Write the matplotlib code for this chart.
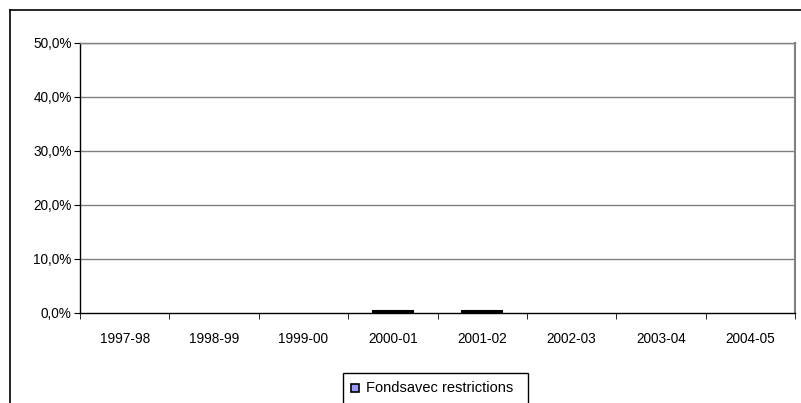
import matplotlib
matplotlib.use("Agg")
import matplotlib.pyplot as plt
from matplotlib.patches import Rectangle
from matplotlib.lines import Line2D
import numpy as np

categories = ["1997-98", "1998-99", "1999-00", "2000-01", "2001-02", "2002-03", "2003-04", "2004-05"]
values = [0.0, 0.0, 0.0, 0.4, 0.4, 0.0, 0.0, 0.0]
series_name = "Fondsavec restrictions"
yticks = [0, 10, 20, 30, 40, 50]
ytick_labels = ["0,0%", "10,0%", "20,0%", "30,0%", "40,0%", "50,0%"]

W, H = 801, 403
fig = plt.figure(figsize=(W / 100, H / 100), dpi=100)
plt.rcParams['font.family'] = ['Liberation Sans', 'DejaVu Sans']
FS = 9.8

ax = fig.add_axes([80 / W, 1 - 313 / H, (795 - 80) / W, (313 - 43) / H])
x = np.arange(len(categories))
edges = ["black" if v > 0 else "none" for v in values]
ax.bar(x, values, width=0.45, color="#9999FF", edgecolor=edges, linewidth=1.5, zorder=3)
ax.set_xlim(-0.5, len(categories) - 0.5)
ax.set_ylim(0, 50)
ax.set_yticks(yticks)
ax.set_yticklabels(ytick_labels, fontsize=FS)
ax.set_xticks(x)
ax.set_xticklabels(categories, fontsize=FS)
ax.tick_params(axis='x', length=0, pad=14)
ax.set_xticks(np.arange(-0.5, len(categories)), minor=True)
ax.tick_params(axis='x', which='minor', length=4, direction='out', color='black')
ax.tick_params(axis='y', length=4, direction='out', color='black', pad=2)
for yv in yticks[1:]:
    ax.axhline(yv, color="#808080", linewidth=1, zorder=1)
ax.spines['left'].set_color('black')
ax.spines['bottom'].set_color('black')
ax.spines['top'].set_color('#808080')
ax.spines['right'].set_color('#808080')
for s in ax.spines.values():
    s.set_linewidth(1)
ax.spines['right'].set_linewidth(1.5)

# outer chart border (top and left visible)
fig.add_artist(Line2D([10 / W, 1.0], [1 - 10 / H, 1 - 10 / H], color='black', linewidth=1.2, transform=fig.transFigure))
fig.add_artist(Line2D([10 / W, 10 / W], [0.0, 1 - 10 / H], color='black', linewidth=1.2, transform=fig.transFigure))

# legend box
fig.add_artist(Rectangle((343 / W, -0.05), (528 - 343) / W, 0.05 + (403 - 373) / H,
                         transform=fig.transFigure, facecolor='white', edgecolor='black', linewidth=1))
fig.add_artist(Rectangle((351 / W, 1 - 392 / H), 8 / W, 8 / H, transform=fig.transFigure,
                         facecolor='#9999FF', edgecolor='black', linewidth=1.2))
fig.text(366 / W, 1 - 388 / H, series_name, fontsize=10.5, va='center', ha='left')

fig.savefig("out.png", dpi=100)
